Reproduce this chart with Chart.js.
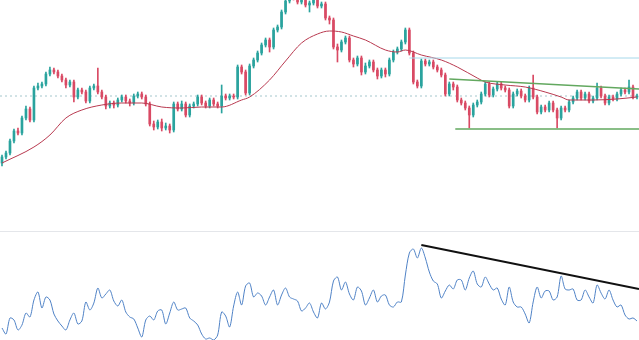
<!DOCTYPE html>
<html>
<head>
    <title>Candles</title>
    <script src="https://cdn.jsdelivr.net/npm/chart.js@4.4.1/dist/chart.umd.min.js"></script>
    <style>
        body { margin: 0; background: #fff; }
        #wrap { position: relative; width: 639px; height: 340px; overflow: hidden; }
        #priceChart { position: absolute; left: 0; top: 0; }
        #sep { position: absolute; left: 0; top: 231px; width: 639px; height: 1px; background: #e4e6ea; }
        #oscChart { position: absolute; left: 0; top: 232px; }
    </style>
</head>
<body>
<div id="wrap">
    <canvas id="priceChart" width="639" height="231"></canvas>
    <div id="sep"></div>
    <canvas id="oscChart" width="639" height="108"></canvas>
</div>
<script>
// candle values, one per bar
var opens = [
    68,74,78,90,100,98,113,122,111,143,145,147,157,161,159,155,151,146,149,134,
    141,139,130,143,145,139,134,125,128,126,131,134,130,128,135,137,134,127,107,104,
    109,103,105,101,127,122,127,116,125,127,134,128,125,131,127,125,135,133,135,134,
    164,159,138,165,171,178,186,191,184,201,204,219,230,236,234,229,231,226,228,231,
    225,227,213,211,184,181,189,193,171,167,173,159,165,169,161,155,161,157,171,179,
    182,189,201,178,149,145,170,167,169,164,161,156,137,147,144,131,128,123,116,126,
    129,137,147,136,142,147,143,141,125,137,140,135,131,143,134,119,124,121,128,121,
    113,123,121,129,133,139,133,137,130,133,143,135,128,134,132,137,141,139,144,134
];
var closes = [
    74,78,90,100,98,113,122,111,143,145,147,157,161,159,155,151,146,149,134,141,
    139,130,143,145,139,134,125,128,126,131,134,130,128,135,137,134,127,107,104,109,
    103,105,101,127,122,127,116,125,127,134,128,125,131,127,125,135,133,135,134,164,
    159,138,165,171,178,186,191,184,201,204,219,230,236,234,229,231,226,228,231,225,
    227,213,211,184,181,189,193,171,167,173,159,165,169,161,155,161,157,171,179,182,
    189,201,178,149,145,170,167,169,164,161,156,137,147,144,131,128,123,116,126,129,
    137,147,136,142,147,143,141,125,137,140,135,131,143,134,119,124,121,128,121,113,
    123,121,129,133,139,133,137,130,133,143,135,128,134,132,137,141,139,144,134,135
];
var highs = [
    76,80,92,102,103,115,125,124,145,148,149,159,164,163,161,157,153,151,151,143,
    143,141,145,147,163,141,136,130,130,133,136,136,132,137,139,139,136,129,110,111,
    112,108,107,129,129,130,129,127,129,136,136,130,133,133,129,146,137,137,137,166,
    166,161,167,173,180,188,193,193,203,206,221,233,239,239,236,233,233,230,233,233,
    229,229,215,213,187,191,195,195,173,175,175,168,171,171,163,163,163,173,181,184,
    191,203,203,180,151,172,172,171,171,166,163,158,149,149,146,133,130,125,128,131,
    139,149,149,144,149,149,145,143,139,142,142,137,145,156,136,126,126,130,130,123,
    125,125,131,135,141,141,139,139,135,148,145,137,136,136,139,143,143,151,146,137
];
var lows = [
    65,72,76,88,96,96,111,109,109,141,143,145,155,157,153,149,143,144,129,132,
    137,128,128,141,137,132,122,123,123,124,129,128,125,126,133,132,125,105,101,102,
    100,101,98,99,120,120,114,114,123,125,126,123,123,125,123,118,131,131,132,132,
    157,136,136,163,169,176,184,179,182,199,202,217,228,231,227,227,224,219,226,223,
    223,211,207,182,169,179,187,169,164,165,156,157,163,159,152,153,154,155,169,177,
    180,187,176,147,143,143,165,165,162,159,154,135,135,141,129,126,121,103,114,124,
    127,135,134,134,140,141,139,123,123,135,133,129,129,132,117,117,119,119,119,103,
    111,119,119,127,131,131,131,128,128,131,133,126,126,130,130,135,137,137,132,132
];

// moving average
var maBars = [0,8,12,16,20,25,30,35,40,45,50,55,60,62,67,71,75,79,82,85,88,91,96,99,101,105,110,114,119,121,126,131,136,140,142,148,154,159];
var maValues = [68,84,96,113,121,126,128,128,124,123,124,124,131,134,151,170,188,197,200,199,195,191,181,179,181,176,171,164,153,149,146,144,139,134,131,131,132,134];

// drawn levels
var pivotLevel = 135;
var resistLevel = 173;
var resistFrom = 102;
var channelTop = [[112, 152], [159.5, 142]];
var channelBottom = [[113.5, 102], [159.5, 102]];

// oscillator, one per bar
var osc = [
    12,6,22,20,10,15,27,23,40,48,32,43,40,26,19,14,10,20,27,16,
    19,38,30,37,52,42,46,50,39,34,40,28,23,21,12,3,20,24,20,29,
    30,16,27,38,30,31,32,22,19,15,6,1,2,0,5,28,24,13,34,48,
    35,54,57,43,47,44,35,43,50,35,45,52,43,41,39,29,32,37,28,22,
    37,31,38,59,63,50,58,46,40,53,49,35,42,50,38,44,45,35,33,38,
    38,65,87,91,82,92,82,68,59,56,42,49,55,51,60,60,50,62,69,56,
    53,63,56,50,52,41,35,53,38,33,33,26,17,38,53,42,49,49,40,43,
    64,51,50,51,40,40,50,43,37,55,47,41,50,40,33,35,25,21,22,19
];
var oscTrend = [[105, 95], [159.5, 51]];

var upColor = '#2aa39e';
var downColor = '#d94a64';
var n = closes.length;

function candleColor(ctx) {
    var i = ctx.dataIndex;
    return closes[i] >= opens[i] ? upColor : downColor;
}

var wickData = [], bodyData = [], maData = [], oscData = [];
for (var i = 0; i < n; i++) {
    wickData.push({x: i, y: [lows[i], highs[i]]});
    bodyData.push({x: i, y: [opens[i], closes[i]]});
    oscData.push({x: i, y: osc[i]});
}
for (var j = 0; j < maBars.length; j++) {
    maData.push({x: maBars[j], y: maValues[j]});
}
function seg(p) {
    return [{x: p[0][0], y: p[0][1]}, {x: p[1][0], y: p[1][1]}];
}

var xMin = -0.5, xMax = n - 0.5;

new Chart(document.getElementById('priceChart'), {
    type: 'bar',
    data: {
        datasets: [
            { type: 'line', data: seg(channelTop), borderColor: '#62a85f', borderWidth: 1.5, pointRadius: 0, order: 0 },
            { type: 'line', data: seg(channelBottom), borderColor: '#62a85f', borderWidth: 1.5, pointRadius: 0, order: 0 },
            { type: 'line', data: [{x: resistFrom, y: resistLevel}, {x: xMax, y: resistLevel}], borderColor: '#a6d8ea', borderWidth: 1, pointRadius: 0, order: 0 },
            { type: 'line', data: maData, borderColor: '#b8394f', borderWidth: 1, pointRadius: 0, cubicInterpolationMode: 'monotone', order: 0 },
            { type: 'line', data: [{x: xMin, y: pivotLevel}, {x: xMax, y: pivotLevel}], borderColor: '#a3c6cc', borderWidth: 1, borderDash: [2, 3], pointRadius: 0, order: 3 },
            { data: bodyData, backgroundColor: candleColor, barThickness: 2, grouped: false, order: 1 },
            { data: wickData, backgroundColor: candleColor, barThickness: 1, grouped: false, order: 2 }
        ]
    },
    options: {
        responsive: false,
        animation: false,
        layout: { padding: 0 },
        plugins: { legend: { display: false }, tooltip: { enabled: false } },
        scales: {
            x: { type: 'linear', min: xMin, max: xMax, offset: false, display: false },
            y: { min: 0, max: 231, display: false }
        }
    }
});

new Chart(document.getElementById('oscChart'), {
    type: 'line',
    data: {
        datasets: [
            { data: seg(oscTrend), borderColor: '#111', borderWidth: 2, pointRadius: 0 },
            { data: oscData, borderColor: '#4f82c6', borderWidth: 1, pointRadius: 0, tension: 0.3 }
        ]
    },
    options: {
        responsive: false,
        animation: false,
        layout: { padding: 0 },
        plugins: { legend: { display: false }, tooltip: { enabled: false } },
        scales: {
            x: { type: 'linear', min: xMin, max: xMax, display: false },
            y: { min: 0, max: 108, display: false }
        }
    }
});
</script>
</body>
</html>
